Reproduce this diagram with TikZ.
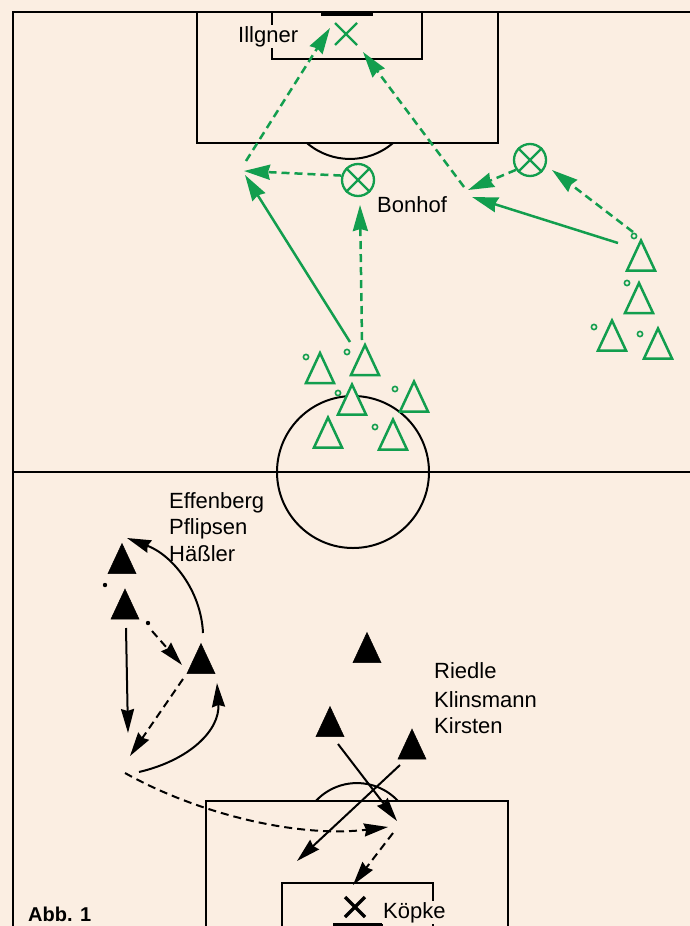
\documentclass[tikz,border=0pt]{standalone}
\usepackage{fontspec}
\setmainfont{Liberation Sans}
\usetikzlibrary{arrows.meta,calc}
\definecolor{bg}{RGB}{251,238,226}
\definecolor{grn}{RGB}{18,158,78}
\newcommand\ftri[4]{\coordinate (#1) at (#2,#3);
  \draw[#4] ($(#1)+(0,-15)$) -- ($(#1)+(14,15)$) -- ($(#1)+(-14,15)$) -- cycle;}
\tikzset{
  fieldline/.style={line width=2pt, black},
  lbl/.style={font=\fontsize{22}{26}\selectfont, inner sep=1pt, fill=bg},
  gtri/.style={draw=grn, line width=2.5pt, fill=bg, line join=miter},
  btri/.style={fill=black, draw=black, line width=0.5pt},
  gdot/.style={draw=grn, line width=1.6pt},
  garrow/.style={grn, line width=2.5pt, -{Stealth[length=26pt,width=15pt,inset=2pt]}},
  gdash/.style={garrow, dash pattern=on 8pt off 5pt},
  barrow/.style={black, line width=2pt, -{Stealth[length=24pt,width=13pt,inset=2pt]}},
  bdash/.style={barrow, dash pattern=on 8pt off 5pt},
  xcirc/.style={circle, draw=grn, line width=2.3pt, minimum size=32pt, inner sep=0pt, fill=bg},
}
\begin{document}
\begin{tikzpicture}[x=1pt,y=-1pt]
\fill[bg] (0,0) rectangle (690,926);
\useasboundingbox (0,0) rectangle (690,926);
% ---------- field lines ----------
\draw[fieldline] (13,926) -- (13,12) -- (690,12);
\draw[fieldline] (13,472) -- (690,472);
\draw[fieldline] (197,12) -- (197,143) -- (498,143) -- (498,12);
\draw[fieldline] (272,12) -- (272,59) -- (422,59) -- (422,12);
\draw[line width=4pt] (321,14) -- (373,14);
\draw[fieldline] (393,143) arc[start angle=49.3, end angle=130.7, radius=66];
\draw[fieldline] (353,472) circle[radius=76];
\draw[fieldline] (206,926) -- (206,801) -- (508,801) -- (508,926);
\draw[fieldline] (282,926) -- (282,883) -- (433,883) -- (433,926);
\draw[line width=3pt] (333,924) -- (383,924);
\draw[fieldline] (398,801) arc[start angle=-42.8, end angle=-137.2, radius=56];
% ---------- labels ----------
\node[lbl, anchor=base west] (illgner) at (237,42) {Illgner};
\node[lbl, anchor=base west] (bonhof) at (376,212) {Bonhof};
\node[lbl, anchor=base west, fill=none] (effenberg) at (168,508) {Effenberg};
\node[lbl, anchor=base west, fill=none] (pflipsen) at (168,534) {Pflipsen};
\node[lbl, anchor=base west, fill=none] (haessler) at (168,561) {Häßler};
\node[lbl, anchor=base west, fill=none] (riedle) at (433,678) {Riedle};
\node[lbl, anchor=base west, fill=none] (klinsmann) at (433,707) {Klinsmann};
\node[lbl, anchor=base west, fill=none] (kirsten) at (433,733) {Kirsten};
\node[lbl, anchor=base west] (koepke) at (382,918) {Köpke};
\node[lbl, anchor=base west, fill=none, font=\fontsize{20}{24}\selectfont\bfseries] (abb) at (27,921) {Abb. 1};
% ---------- goalkeepers ----------
\coordinate (ix) at (346,34);
\draw[grn, line width=2.3pt] ($(ix)+(-11,-11)$) -- ($(ix)+(11,11)$) ($(ix)+(-11,11)$) -- ($(ix)+(11,-11)$);
\coordinate (kx) at (355,907);
\draw[black, line width=3.4pt] ($(kx)+(-10,-10)$) -- ($(kx)+(10,10)$) ($(kx)+(-10,10)$) -- ($(kx)+(10,-10)$);
% ---------- crossed circles ----------
\node[xcirc] (cb) at (358,180) {};
\draw[grn, line width=2.3pt] (cb.45) -- (cb.225) (cb.135) -- (cb.315);
\node[xcirc] (cr) at (530,160) {};
\draw[grn, line width=2.3pt] (cr.45) -- (cr.225) (cr.135) -- (cr.315);
% ---------- green triangles ----------
\ftri{g1}{641}{255.5}{gtri}
\ftri{g2}{639}{298}{gtri}
\ftri{g3}{612}{335.5}{gtri}
\ftri{g4}{658}{343.5}{gtri}
\ftri{ta}{320}{368}{gtri}
\ftri{tb}{365}{360}{gtri}
\ftri{tc}{352}{399.5}{gtri}
\ftri{td}{414}{396.5}{gtri}
\ftri{te}{328}{432.5}{gtri}
\ftri{tf}{393}{434.5}{gtri}
\foreach \p in {(634,236),(627,283),(594,327),(640,334),(306,357),(347,352),(338,393),(395,389),(375,427)}
  \draw[gdot] \p circle[radius=2.6];
% ---------- green moves ----------
\coordinate (pL) at (244,171);
\coordinate (pR) at (468,190);
\coordinate (ms) at (350,342);
\coordinate (md) at (362,340);
\coordinate (rs) at (618,243);
\coordinate (rd) at (633,232);
\coordinate (itL) at (330,28);
\coordinate (itR) at (363,52);
\coordinate (cbt) at (360,205);
\coordinate (crt) at (552,170);
\draw[garrow] (ms) -- ($(pL)+(1,4)$);
\draw[gdash] (cb.165) -- (pL);
\draw[gdash] (md) -- (cbt);
\draw[gdash] ($(pL)+(2,-10)$) -- (itL);
\draw[gdash] (rd) -- (crt);
\draw[gdash] (cr.215) -- (pR);
\draw[garrow] (rs) -- ($(pR)+(4,7)$);
\draw[gdash] ($(pR)+(-4,-3)$) -- (itR);
% ---------- black triangles ----------
\ftri{b1}{122}{558.5}{btri}
\ftri{b2}{125}{604}{btri}
\ftri{b3}{201}{658.5}{btri}
\ftri{r1}{367}{647.5}{btri}
\ftri{r2}{330}{721.5}{btri}
\ftri{r3}{412}{744}{btri}
\fill (105,585) circle[radius=2.2];
\fill (148,623) circle[radius=2.2];
% ---------- black moves ----------
\coordinate (c1s) at (203,633);
\coordinate (c1e) at (127,538);
\coordinate (d1s) at (152,631);
\coordinate (d1e) at (182,665);
\coordinate (v1s) at (126,628);
\coordinate (v1e) at (128,733);
\coordinate (d2s) at (183,679);
\coordinate (d2e) at (130,756);
\coordinate (c2s) at (139,772);
\coordinate (c2e) at (217,683);
\coordinate (d3s) at (125,773);
\coordinate (d3e) at (388,827);
\coordinate (l1s) at (338,744);
\coordinate (l1e) at (397,821);
\coordinate (l2s) at (400,765);
\coordinate (l2e) at (297,861);
\coordinate (d4s) at (393,833);
\coordinate (d4e) at (353,885);
\draw[barrow] (c1s) .. controls (201,590) and (172,555) .. (c1e);
\draw[bdash] (d1s) -- (d1e);
\draw[barrow] (v1s) -- (v1e);
\draw[bdash] (d2s) -- (d2e);
\draw[barrow] (c2s) .. controls (190,760) and (220,730) .. (c2e);
\draw[bdash] (d3s) .. controls (200,815) and (300,838) .. (d3e);
\draw[barrow] (l1s) -- (l1e);
\draw[barrow] (l2s) -- (l2e);
\draw[bdash] (d4s) -- (d4e);
\end{tikzpicture}
\end{document}
